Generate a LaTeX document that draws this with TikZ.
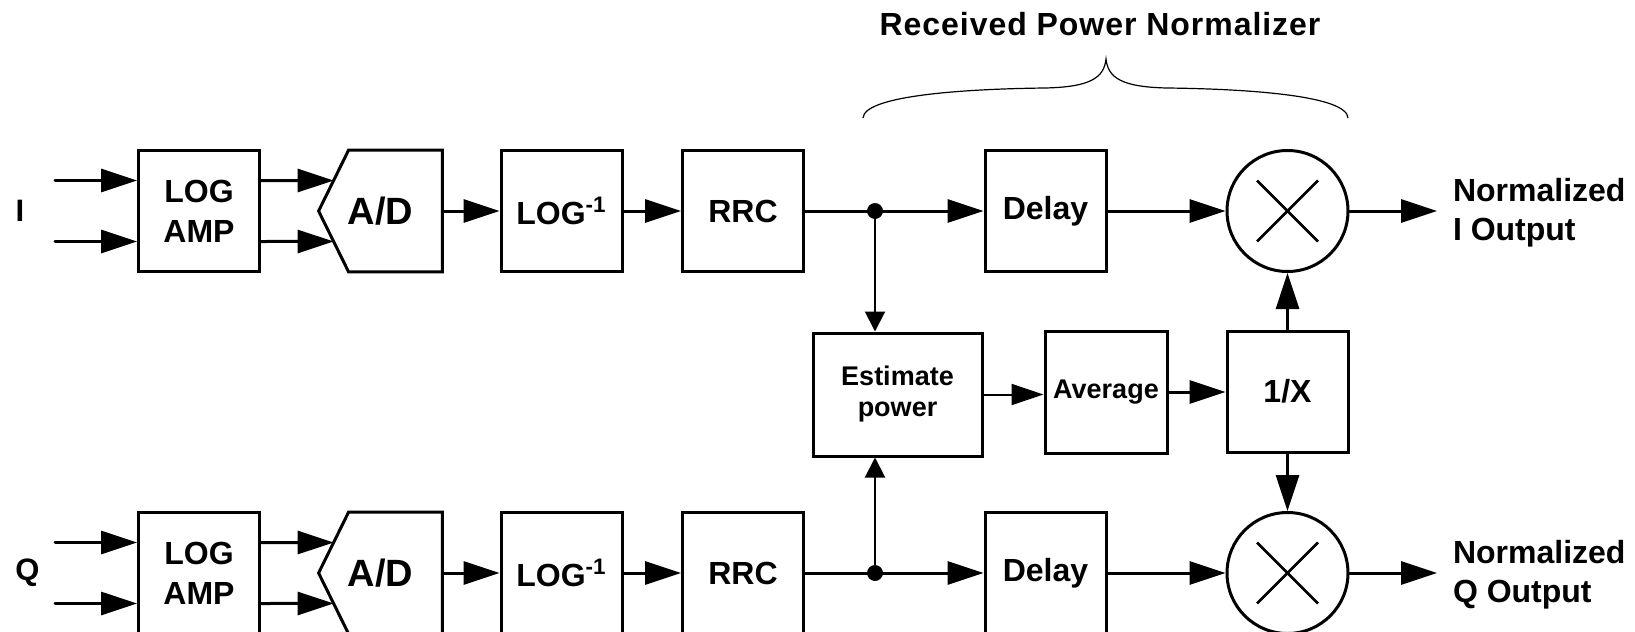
\documentclass[tikz,border=0pt]{standalone}
\usepackage{fontspec}
\setmainfont{Liberation Sans}
\usetikzlibrary{arrows.meta,calc}

\tikzset{
  blk/.style={draw, line width=1.5pt, minimum width=60.5pt, minimum height=60.5pt,
    inner sep=0pt, align=center, font=\bfseries\fontsize{16}{20}\selectfont},
  estblk/.style={blk, minimum width=84.5pt, minimum height=61.5pt, font=\bfseries\fontsize{13.5}{15.5}\selectfont},
  avgblk/.style={blk, minimum width=61pt, minimum height=61pt, font=\bfseries\fontsize{13.5}{15.5}\selectfont},
  adblk/.style={minimum width=61.5pt, minimum height=60.5pt, inner sep=0pt, font=\bfseries\fontsize{19}{22}\selectfont},
  mixer/.style={circle, draw, line width=1.5pt, minimum size=60.5pt, inner sep=0pt},
  junction/.style={circle, fill, inner sep=0pt, minimum size=7.8pt},
  bigarrow/.style={-{Triangle[length=18pt,width=11.5pt]}, line width=1.5pt, line cap=round},
  midarrow/.style={-{Triangle[length=16pt,width=10.5pt]}, line width=1pt},
  smallarrow/.style={-{Triangle[length=10pt,width=10pt]}, line width=1pt},
  lbl/.style={font=\bfseries\fontsize{15.5}{19}\selectfont, inner sep=0pt},
  outlbl/.style={font=\bfseries\fontsize{16}{19.5}\selectfont, inner sep=0pt, outer sep=8pt, align=left, anchor=west},
  cross/.style={line width=1.3pt},
  brace/.style={line width=0.6pt},
  titlelbl/.style={font=\bfseries\fontsize{16}{19}\selectfont\addfontfeatures{LetterSpace=3}, inner sep=0pt},
}

\begin{document}
\begin{tikzpicture}[x=0.5pt,y=-0.5pt]
\useasboundingbox (0,0) rectangle (1635,632);

% ---------- title and brace ----------
\node[titlelbl] (title) at (1100,24) {Received Power Normalizer};
\coordinate (brL) at (863,118);
\coordinate (brT) at (1106,59);
\coordinate (brR) at (1348,118);
\draw[brace] (brL) .. controls (864,96) and (960,89) .. (1045,88)
  .. controls (1090,87) and (1104,78) .. (brT)
  .. controls (1108,78) and (1122,87) .. (1167,88)
  .. controls (1252,89) and (1347,96) .. (brR);

% ---------- rows ----------
\foreach \r/\y/\lab/\lx/\name in {1/211/I/20/I, 2/573/Q/27.5/Q}{
  \node[lbl] (lab\r) at (\lx,\y) {\lab};
  \node[blk] (la\r) at (199,\y) {LOG\\AMP};
  \node[adblk] (ad\r) at (380.5,\y) {A/D};
  \coordinate (adt\r) at ($(ad\r.north west)+(30,0)$);
  \coordinate (adb\r) at ($(ad\r.south west)+(30,0)$);
  \draw[line width=1.5pt, line join=miter] (ad\r.west) -- (adt\r) -- (ad\r.north east)
     -- (ad\r.south east) -- (adb\r) -- cycle;
  \node[blk] (li\r) at (561.5,\y) {LOG\textsuperscript{-1}};
  \node[blk] (rrc\r) at (743,\y) {RRC};
  \node[junction] (dot\r) at (875,\y) {};
  \node[blk] (dl\r) at (1045.5,\y) {Delay};
  \node[mixer] (mx\r) at (1287.5,\y) {};
  \draw[cross] ($(mx\r)+(-30.5,-30.5)$) -- ($(mx\r)+(30.5,30.5)$);
  \draw[cross] ($(mx\r)+(-30.5,30.5)$) -- ($(mx\r)+(30.5,-30.5)$);
  \node[outlbl] (out\r) at (1437,\y+2) {Normalized\\\name{} Output};
  % inputs
  \coordinate (ina\r) at (55,\y-30.5);
  \coordinate (inb\r) at (55,\y+30.5);
  \draw[bigarrow] (ina\r) -- (ina\r -| la\r.west);
  \draw[bigarrow] (inb\r) -- (inb\r -| la\r.west);
  % log amp -> A/D
  \draw[bigarrow] ($(la\r.east)+(0,-30.5)$) -- ($(ad\r.west)!0.5!(adt\r)$);
  \draw[bigarrow] ($(la\r.east)+(0,30.5)$) -- ($(ad\r.west)!0.5!(adb\r)$);
  % chain
  \draw[bigarrow] (ad\r.east) -- (li\r.west);
  \draw[bigarrow] (li\r.east) -- (rrc\r.west);
  \draw[bigarrow] (rrc\r.east) -- (dl\r.west);
  \node[junction] at (dot\r) {};
  \draw[bigarrow] (dl\r.east) -- (mx\r.west);
  \draw[bigarrow] (mx\r.east) -- (mx\r.east -| out\r.west);
}

% ---------- middle ----------
\node[estblk] (est) at (897.5,394.5) {Estimate\\power};
\node[avgblk] (avg) at (1106,392) {Average};
\node[blk] (inv) at (1287.5,391.5) {1/X};

\draw[smallarrow] (dot1) -- (dot1 |- est.north);
\draw[smallarrow] (dot2) -- (dot2 |- est.south);
\draw[midarrow] (est.east) -- (est.east -| avg.west);
\draw[bigarrow] (avg.east) -- (avg.east -| inv.west);
\draw[bigarrow] (inv.north) -- (mx1.south);
\draw[bigarrow] (inv.south) -- (mx2.north);
\end{tikzpicture}
\end{document}
